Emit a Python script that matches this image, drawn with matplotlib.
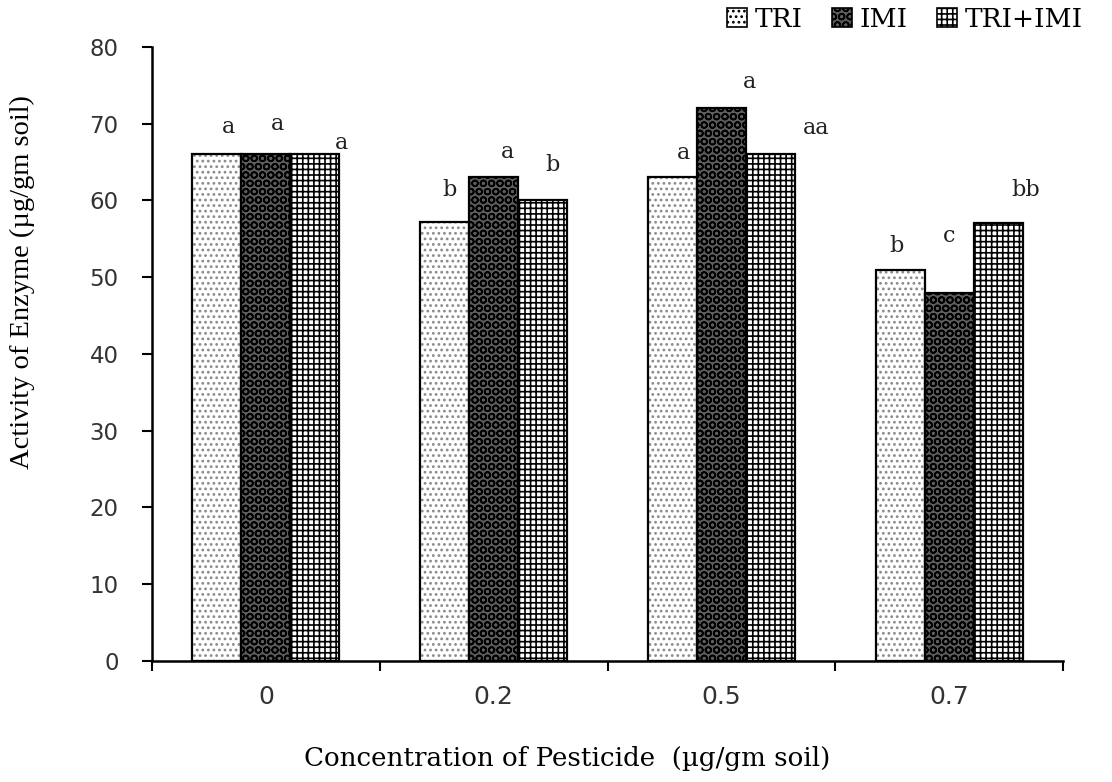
import numpy as np
import matplotlib.pyplot as plt
from matplotlib.patches import Patch

categories = ['0', '0.2', '0.5', '0.7']
series = ['TRI', 'IMI', 'TRI+IMI']
tri = [66, 57.2, 63, 51]
imi = [66, 63, 72, 48]
tri_imi = [66, 60, 66, 57]
letters_tri = ['a', 'b', 'a', 'b']
letters_imi = ['a', 'a', 'a', 'c']
letters_tri_imi = ['a', 'b', 'aa', 'bb']

values = [tri, imi, tri_imi]
letters = [letters_tri, letters_imi, letters_tri_imi]

# label offsets (dx in category units, dy in value units) per series/group
dx = [[0.05, 0.02, 0.05, -0.015],
      [0.05, 0.06, 0.125, 0.0],
      [0.115, 0.045, 0.2, 0.12]]
dy = [[3.6, 4.2, 3.2, 3.1],
      [4.0, 3.3, 3.4, 7.4],
      [1.5, 4.6, 3.4, 4.3]]

styles = [dict(face='white', hcol='#8a8a8a', hatch='...'),
          dict(face='#5e5e5e', hcol='black', hatch='OO'),
          dict(face='white', hcol='black', hatch='+++')]

plt.rcParams['hatch.linewidth'] = 1.2
fig = plt.figure(figsize=(11.12, 7.82), dpi=100)
ax = fig.add_axes([0.1367, 0.1547, 0.8193, 0.7853])

x = np.arange(len(categories))
w = 0.215
for k, (vals, st) in enumerate(zip(values, styles)):
    pos = x + (k - 1) * w
    ax.bar(pos, vals, w, color=st['face'], edgecolor=st['hcol'], hatch=st['hatch'], linewidth=0)
    ax.bar(pos, vals, w, fill=False, edgecolor='black', linewidth=1.6)
    for i in range(len(categories)):
        ax.text(pos[i] + dx[k][i], vals[i] + dy[k][i], letters[k][i], ha='center', va='center',
                fontsize=16, family='DejaVu Serif', color='#222222')

ax.set_xlim(-0.5, 3.5)
ax.set_ylim(0, 80)
ax.set_yticks(np.arange(0, 81, 10))
ax.set_xticks(x)
ax.set_xticklabels(categories)
ax.set_xticks(np.arange(-0.5, 3.6, 1), minor=True)
ax.tick_params(axis='x', which='major', length=0, pad=17, labelsize=18)
ax.tick_params(axis='x', which='minor', length=7, width=1.5, direction='out')
ax.tick_params(axis='y', length=7, width=1.5, direction='out', pad=17, labelsize=16.5)
for lab in ax.get_xticklabels() + ax.get_yticklabels():
    lab.set_family('DejaVu Sans')
    lab.set_color('#333333')
for s in ['top', 'right']:
    ax.spines[s].set_visible(False)
for s in ['left', 'bottom']:
    ax.spines[s].set_linewidth(1.8)

ax.set_xlabel('Concentration of Pesticide  (\u00b5g/gm soil)', family='DejaVu Serif', fontsize=18.8)
ax.xaxis.set_label_coords(0.4555, -0.138)
ax.set_ylabel('Activity of Enzyme (\u00b5g/gm soil)', family='Liberation Serif', fontsize=20.5)
ax.yaxis.set_label_coords(-0.128, 0.617)

handles = [Patch(facecolor=st['face'], edgecolor='black', hatch=st['hatch'], linewidth=1.2) for st in styles]
fig.legend(handles, series, loc='upper right', bbox_to_anchor=(0.995, 1.022), ncol=3, frameon=False,
           handlelength=0.75, handleheight=0.75, handletextpad=0.3, columnspacing=1.1,
           prop={'family': 'DejaVu Serif', 'size': 19})

fig.savefig('out.png', dpi=100)
